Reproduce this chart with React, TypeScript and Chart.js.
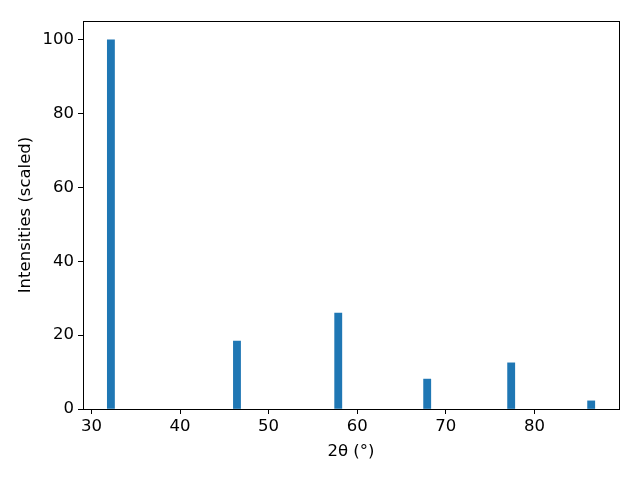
import React, { useEffect, useRef } from "react";
import { Chart, registerables } from "chart.js";

Chart.register(...registerables);

const peakPositions = [32.2, 46.43, 57.86, 67.9, 77.38, 86.41];
const intensities = [100, 18.4, 26.0, 8.1, 12.5, 2.2];
const xTicks = [30, 40, 50, 60, 70, 80];
const yTicks = [0, 20, 40, 60, 80, 100];

const FONT = "'DejaVu Sans', sans-serif";

const frame = {
  id: "frame",
  afterDraw(chart: any) {
    const { ctx, chartArea } = chart;
    ctx.save();
    ctx.strokeStyle = "#000";
    ctx.lineWidth = 1;
    ctx.strokeRect(
      Math.round(chartArea.left) + 0.5,
      Math.round(chartArea.top) + 0.5,
      Math.round(chartArea.right - chartArea.left),
      Math.round(chartArea.bottom - chartArea.top)
    );
    ctx.restore();
  },
};

export default function App() {
  const ref = useRef<HTMLCanvasElement>(null);
  useEffect(() => {
    if (!ref.current) return;
    const chart = new Chart(ref.current, {
      type: "bar",
      data: {
        datasets: [
          {
            data: peakPositions.map((x, i) => ({ x, y: intensities[i] })) as any,
            backgroundColor: "#1f77b4",
            barThickness: 7.2,
            borderWidth: 0,
          },
        ],
      },
      options: {
        animation: false,
        responsive: false,
        layout: { padding: { top: 21, right: 21, left: 0, bottom: 0 } },
        plugins: { legend: { display: false }, tooltip: { enabled: false } },
        scales: {
          x: {
            type: "linear",
            offset: false,
            min: 29.05,
            max: 89.55,
            grid: { display: true, offset: false, drawOnChartArea: false, drawTicks: true, tickLength: 5, color: "#000" },
            border: { display: true, color: "#000", width: 1 },
            ticks: { color: "#000", font: { size: 16.5, family: FONT }, padding: 3, maxRotation: 0 },
            afterBuildTicks: (s: any) => {
              s.ticks = xTicks.map((v) => ({ value: v }));
            },
            afterFit: (s: any) => {
              s.height = 71;
            },
            title: {
              display: true,
              text: "2θ (°)",
              color: "#000",
              font: { size: 16.5, family: FONT },
              padding: { top: 0, bottom: 18 },
            },
          } as any,
          y: {
            type: "linear",
            min: 0,
            max: 105.1,
            grid: { display: true, offset: false, drawOnChartArea: false, drawTicks: true, tickLength: 5, color: "#000" },
            border: { display: true, color: "#000", width: 1 },
            ticks: { color: "#000", font: { size: 16.5, family: FONT }, padding: 4 },
            afterBuildTicks: (s: any) => {
              s.ticks = yTicks.map((v) => ({ value: v }));
            },
            afterFit: (s: any) => {
              s.width = 83;
            },
            title: {
              display: true,
              text: "Intensities (scaled)",
              color: "#000",
              font: { size: 16.5, family: FONT },
              padding: { top: 16, bottom: 0 },
            },
          } as any,
        },
      },
      plugins: [frame],
    });
    return () => chart.destroy();
  }, []);
  return (
    <div style={{ position: "fixed", left: 0, top: 0, width: 640, height: 480, background: "#fff" }}>
      <canvas ref={ref} width={640} height={480} />
    </div>
  );
}
